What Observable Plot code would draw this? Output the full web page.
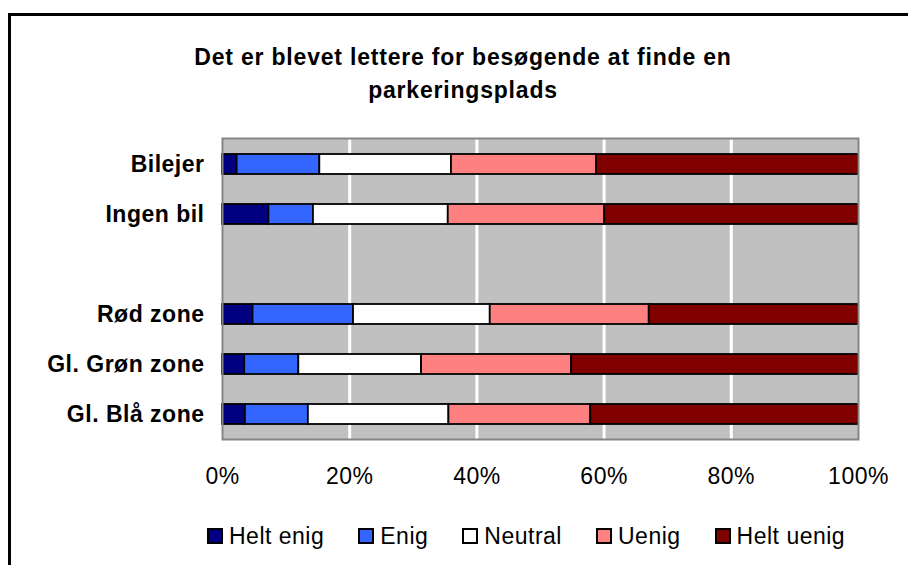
<!DOCTYPE html>
<html>
<head>
<meta charset="utf-8">
<script src="https://cdn.jsdelivr.net/npm/d3@7"></script>
<script src="https://cdn.jsdelivr.net/npm/@observablehq/plot@0.6"></script>
<style>
  html, body { margin: 0; padding: 0; background: #fff; overflow: hidden; }
  #wrap { position: relative; width: 908px; height: 565px; overflow: hidden; font-family: "Liberation Sans", Arial, sans-serif; }
  #border { position: absolute; left: 8px; top: 13px; width: 1000px; height: 1000px; border: 3px solid #000; box-sizing: border-box; }
  #chart { position: absolute; left: 0; top: 0; }
  #title { position: absolute; left: 0; top: 41px; width: 926px; text-align: center; font-weight: bold; font-size: 23px; line-height: 33px; letter-spacing: 0.8px; color: #000; }
  #legend { position: absolute; left: 207px; top: 523px; height: 26px; display: flex; align-items: center; gap: 34px; font-size: 23px; line-height: 26px; letter-spacing: 0.5px; color: #000; white-space: nowrap; }
  .item { display: flex; align-items: center; }
  .sw { width: 16px; height: 16px; box-sizing: border-box; border: 2px solid #000; margin-right: 6px; }
  #chart g[aria-label="x-axis tick label"] { letter-spacing: 0.5px; }
  #chart g[aria-label="y-axis tick label"] { letter-spacing: 0.5px; }
</style>
</head>
<body>
<div id="wrap">
  <div id="border"></div>
  <div id="chart"></div>
  <div id="title">Det er blevet lettere for besøgende at finde en<br>parkeringsplads</div>
  <div id="legend"></div>
</div>
<script>
// Categories (with a blank spacer row between the two groups)
const categories = ["Bilejer", "Ingen bil", " ", "Rød zone", "Gl. Grøn zone", "Gl. Blå zone"];
const groups = ["Bilejer", "Ingen bil", "Rød zone", "Gl. Grøn zone", "Gl. Blå zone"];
const responses = ["Helt enig", "Enig", "Neutral", "Uenig", "Helt uenig"];
const colors = ["#000080", "#3366FF", "#FFFFFF", "#FF8080", "#800000"];

// Percent shares per group
const heltEnig  = [2.3, 7.3, 4.8, 3.5, 3.6];
const enig      = [13.0, 7.0, 15.8, 8.5, 9.9];
const neutral   = [20.7, 21.2, 21.5, 19.3, 22.1];
const uenig     = [22.8, 24.6, 25.0, 23.6, 22.3];
const heltUenig = [41.2, 39.9, 32.9, 45.1, 42.1];

const xTicks = [0, 20, 40, 60, 80, 100];
const gridTicks = [20, 40, 60, 80];

const series = [heltEnig, enig, neutral, uenig, heltUenig];
const rows = [];
groups.forEach((g, i) => {
  responses.forEach((r, j) => {
    rows.push({group: g, response: r, value: series[j][i]});
  });
});

const chart = Plot.plot({
  width: 908,
  height: 565,
  marginLeft: 222,
  marginRight: 50,
  marginTop: 138,
  marginBottom: 126,
  style: {fontFamily: "'Liberation Sans', Arial, sans-serif", background: "transparent", color: "#000"},
  x: {domain: [0, 100], label: null},
  y: {domain: categories, paddingInner: 0.6, paddingOuter: 0.3, label: null},
  color: {domain: responses, range: colors},
  marks: [
    Plot.frame({fill: "#C0C0C0"}),
    Plot.ruleX(gridTicks, {stroke: "#FFFFFF", strokeWidth: 3}),
    Plot.barX(rows, Plot.stackX({
      x: "value",
      y: "group",
      fill: "response",
      order: responses,
      stroke: "#000",
      strokeWidth: 1.8
    })),
    Plot.frame({stroke: "#858585", strokeWidth: 2}),
    Plot.axisX({ticks: xTicks, tickFormat: d => d + "%", tickSize: 0, tickPadding: 28, fontSize: 23, label: null}),
    Plot.axisY({tickSize: 0, tickPadding: 18, fontSize: 23, fontWeight: "bold", label: null})
  ]
});
document.getElementById("chart").appendChild(chart);

// Legend
const legend = document.getElementById("legend");
responses.forEach((r, i) => {
  const item = document.createElement("div");
  item.className = "item";
  const sw = document.createElement("div");
  sw.className = "sw";
  sw.style.background = colors[i];
  const t = document.createElement("span");
  t.textContent = r;
  item.appendChild(sw);
  item.appendChild(t);
  legend.appendChild(item);
});
</script>
</body>
</html>
